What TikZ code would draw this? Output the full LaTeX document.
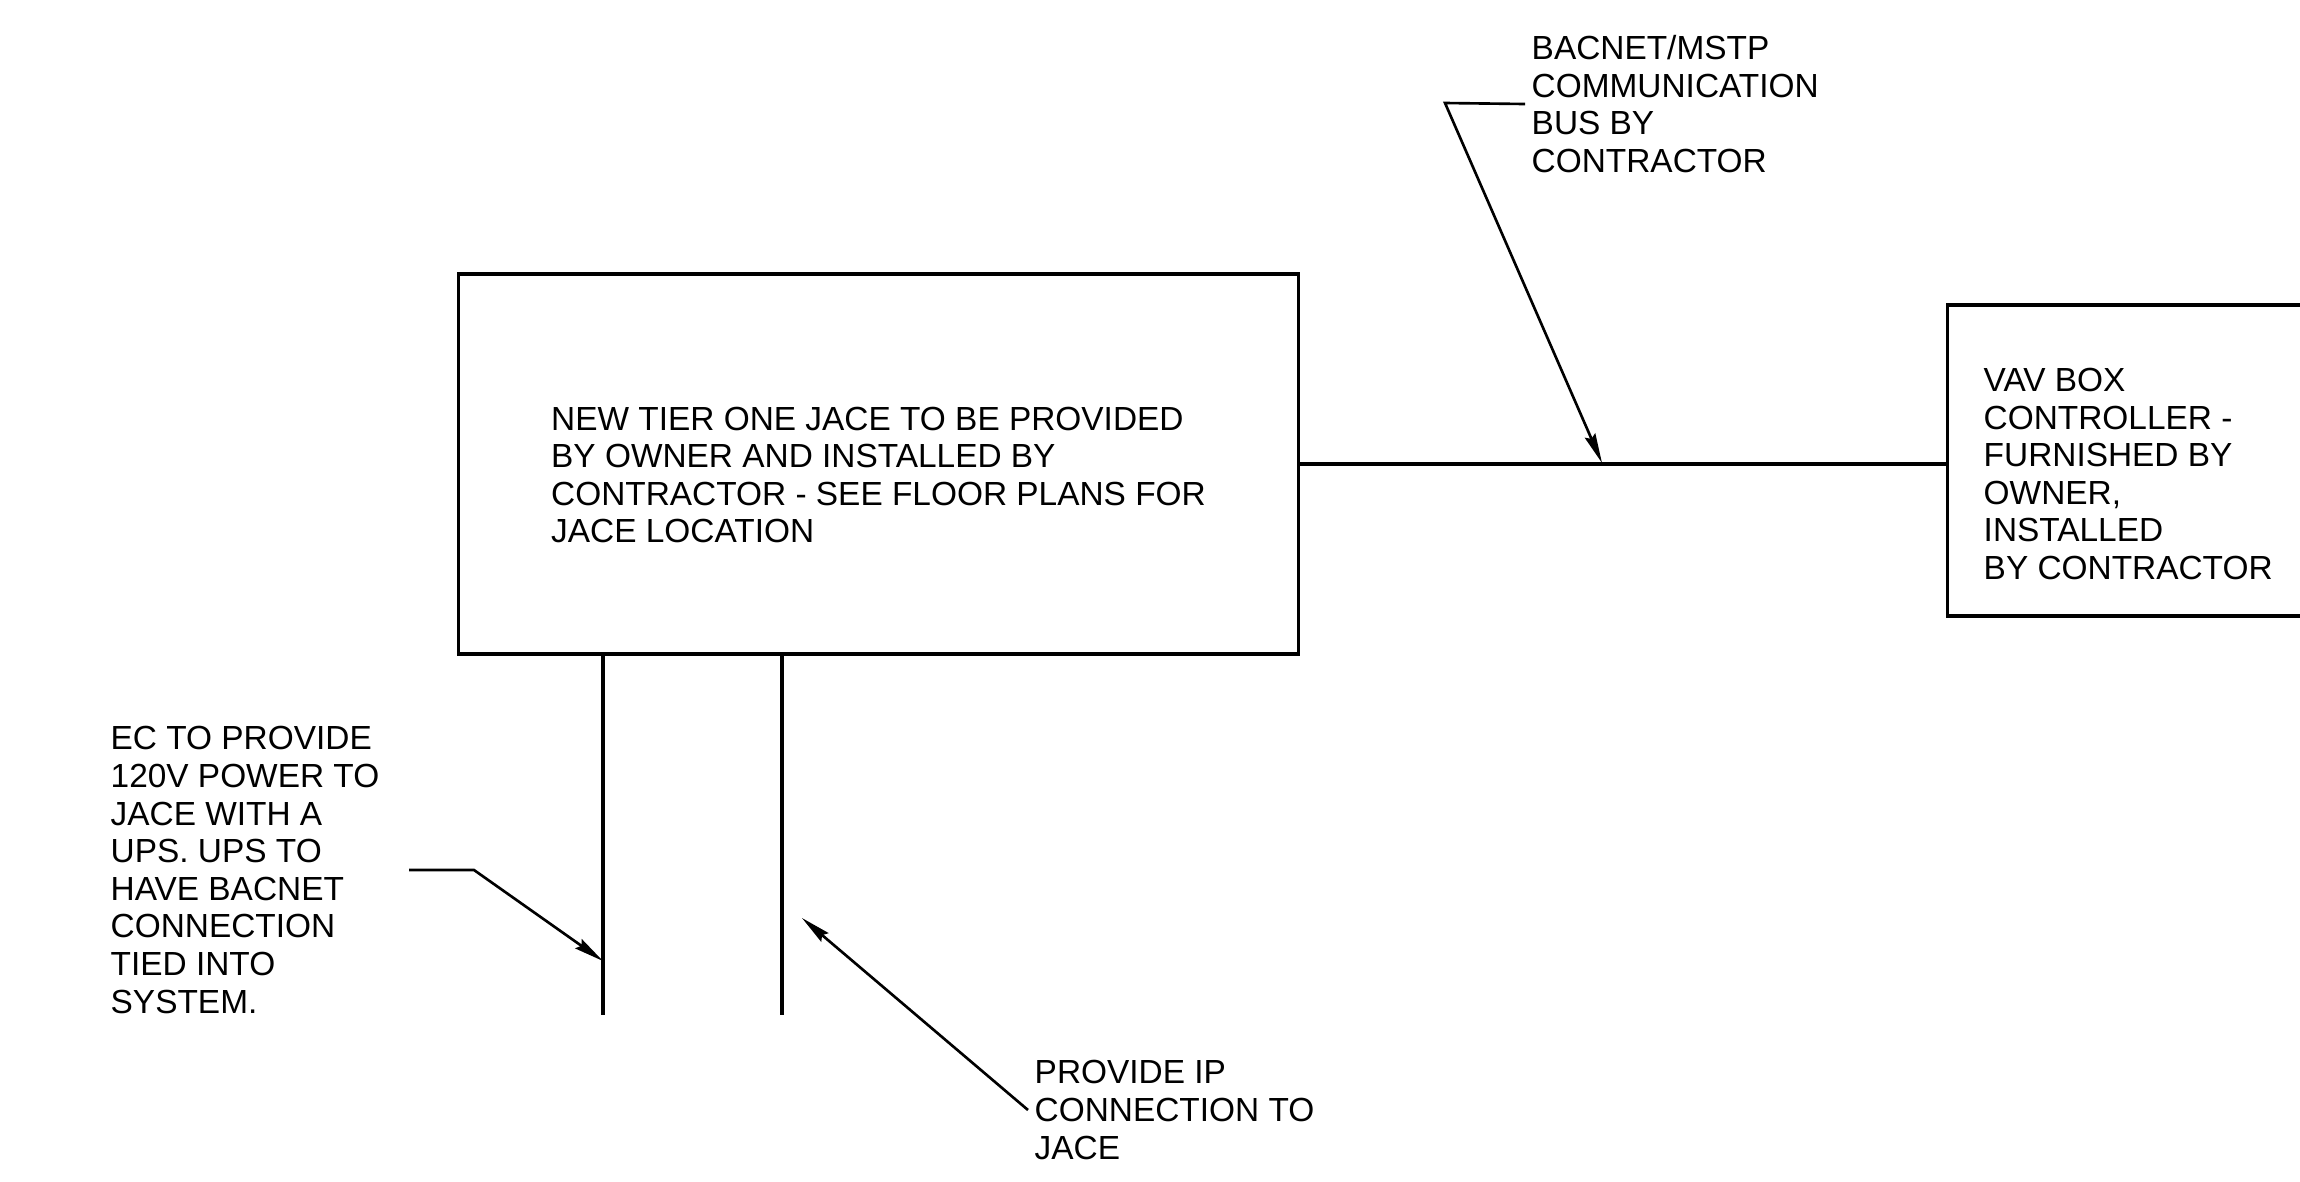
\documentclass[tikz,border=0pt]{standalone}
\usepackage{fontspec}
\setmainfont{Liberation Sans}
\usepackage{tikz}
\usetikzlibrary{positioning, arrows.meta, calc}

\begin{document}
\begin{tikzpicture}[
            x=0.01cm, y=-0.01cm,
            >={Stealth[length=8.5pt, width=3.2pt, inset=1pt]},
            box/.style={rectangle, draw, line width=0.95pt},
            note/.style={inner sep=0pt, align=left, font=\fontsize{9.5}{10.7}\selectfont},
            wire/.style={line width=0.9pt},
            leader/.style={line width=0.75pt},
            ]

            \clip (0,0) rectangle (2300,1181);

            \node[box, minimum width=8.39cm, minimum height=3.8cm] (jace) at (878.5,464) {};
            \node[box, anchor=west, minimum width=4cm, minimum height=3.11cm] (vav) at (1946,460.5) {};
            \node[note] (jacetext) at ([yshift=-0.11cm]jace.center)
                {NEW TIER ONE JACE TO BE PROVIDED\\BY OWNER AND INSTALLED BY\\CONTRACTOR - SEE FLOOR PLANS FOR\\JACE LOCATION};
            \node[note, anchor=west] (vavtext) at (1983,474)
                {VAV BOX\\CONTROLLER -\\FURNISHED BY\\OWNER,\\INSTALLED\\BY CONTRACTOR};

            % notes
            \node[note, anchor=west] (busnote) at (1531,104) {BACNET/MSTP\\COMMUNICATION\\BUS BY\\CONTRACTOR};
            \node[note, anchor=west] (ecnote) at (110,870) {EC TO PROVIDE\\120V POWER TO\\JACE WITH A\\UPS. UPS TO\\HAVE BACNET\\CONNECTION\\TIED INTO\\SYSTEM.};
            \node[note, anchor=west] (ipnote) at (1034,1110) {PROVIDE IP\\CONNECTION TO\\JACE};

            % wiring
            \coordinate (pwr) at (603,1015);
            \coordinate (ip) at (782,1015);
            \draw[wire] (jace.east) -- (vav.west |- jace.east);
            \draw[wire] (pwr |- jace.south) -- (pwr);
            \draw[wire] (ip |- jace.south) -- (ip);

            % leaders
            \coordinate (busbend) at (1445,103);
            \coordinate (bustip) at (1602,463);
            \coordinate (ecbend) at (474,870);
            \coordinate (ectip) at (603,961);
            \coordinate (iptip) at (802,918);
            \draw[leader, ->] ([xshift=-0.06cm]busnote.west) -- (busbend) -- (bustip);
            \draw[leader, ->] ([xshift=0.29cm]ecnote.east) -- (ecbend) -- (ectip);
            \draw[leader, ->] ([xshift=-0.06cm]ipnote.west) -- (iptip);

        \end{tikzpicture}
\end{document}
